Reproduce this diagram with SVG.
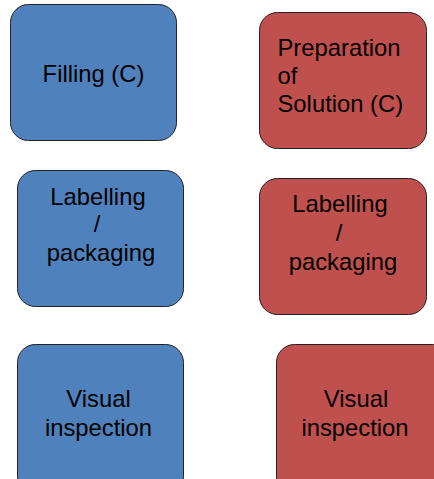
<svg xmlns="http://www.w3.org/2000/svg" width="434" height="479" viewBox="0 0 434 479">
<style>
.b{fill:#4F81BD;stroke:#222;stroke-width:1}
.r{fill:#C0504D;stroke:#222;stroke-width:1}
text{font-family:"Liberation Sans",Arial,sans-serif;font-size:23.8px;fill:#000}
.c{text-anchor:middle}
</style>
<rect width="434" height="479" fill="#fff"/>
<g id="filling"><rect class="b" x="10.5" y="4.5" width="166" height="136" rx="18"/><text class="c" x="93.5" y="82">Filling (C)</text></g>
<g id="preparation"><rect class="r" x="259.5" y="12.5" width="167" height="136" rx="18"/><text x="277.5" y="56">Preparation</text><text x="277.5" y="84">of</text><text x="277.5" y="112">Solution (C)</text></g>
<g id="labelling-blue"><rect class="b" x="17.5" y="170.5" width="166" height="136" rx="18"/><text class="c" x="98" y="205">Labelling</text><text class="c" x="97" y="232">/</text><text class="c" x="101" y="261">packaging</text></g>
<g id="labelling-red"><rect class="r" x="259.5" y="178.5" width="167" height="136" rx="18"/><text class="c" x="340" y="212">Labelling</text><text class="c" x="339" y="241">/</text><text class="c" x="343" y="270">packaging</text></g>
<g id="visual-blue"><rect class="b" x="17.5" y="344.5" width="166" height="150" rx="18"/><text class="c" x="98.5" y="407">Visual</text><text class="c" x="98.5" y="436">inspection</text></g>
<g id="visual-red"><rect class="r" x="276.5" y="344.5" width="175" height="150" rx="18"/><text class="c" x="356" y="407">Visual</text><text class="c" x="355" y="436">inspection</text></g>
<g id="connectors"></g>
</svg>
